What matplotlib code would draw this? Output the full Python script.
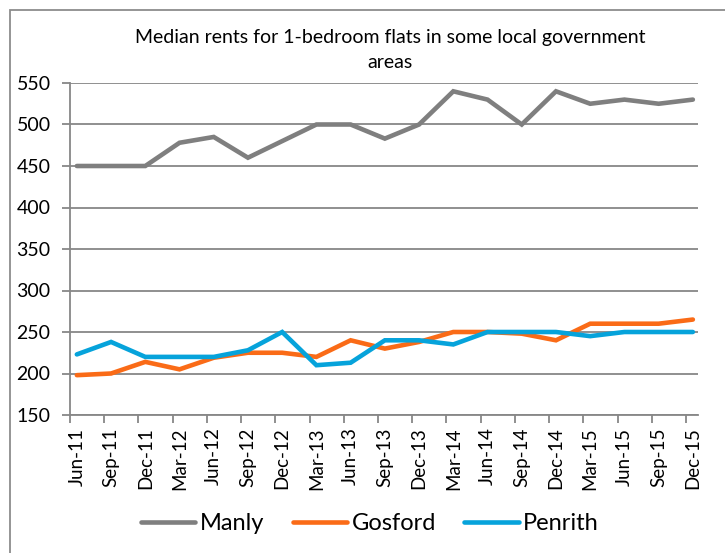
import matplotlib.pyplot as plt
import numpy as np
from matplotlib.patches import Rectangle

plt.rcParams['font.family'] = ['Lato', 'DejaVu Sans']

# quarters
quarters = ["Jun-11", "Sep-11", "Dec-11", "Mar-12", "Jun-12", "Sep-12", "Dec-12",
            "Mar-13", "Jun-13", "Sep-13", "Dec-13", "Mar-14", "Jun-14", "Sep-14",
            "Dec-14", "Mar-15", "Jun-15", "Sep-15", "Dec-15"]

# median rents ($/week)
manly = [450, 450, 450, 478, 485, 460, 480, 500, 500, 483, 500, 540, 530, 500,
         540, 525, 530, 525, 530]
gosford = [198, 200, 214, 205, 219, 225, 225, 220, 240, 230, 238, 250, 250, 248,
           240, 260, 260, 260, 265]
penrith = [223, 238, 220, 220, 220, 228, 250, 210, 213, 240, 240, 235, 250, 250,
           250, 245, 250, 250, 250]

x = np.arange(len(quarters))
grid_col = "#878787"

fig = plt.figure(figsize=(7.25, 5.53), dpi=100)
ax = fig.add_axes([70/725, 1 - 415/553, 628/725, 332/553])

lw = 3.3
ax.plot(x, manly, color="#7f7f7f", lw=lw, solid_capstyle="round", solid_joinstyle="miter", label="Manly")
ax.plot(x, gosford, color="#fa6b17", lw=lw, solid_capstyle="round", solid_joinstyle="miter", label="Gosford")
ax.plot(x, penrith, color="#06a3db", lw=lw, solid_capstyle="round", solid_joinstyle="miter", label="Penrith")

ax.set_ylim(150, 550)
ax.set_yticks(np.arange(150, 551, 50))
ax.set_xlim(-0.2, 18.15)
ax.yaxis.grid(True, color=grid_col, lw=1.3)
ax.set_axisbelow(True)

# tick marks sit a little left of each point, labels sit under the point
ax.set_xticks(x - 0.2)
ax.set_xticklabels([])
ax.set_xticks(x, minor=True)
ax.set_xticklabels(quarters, minor=True, rotation=90, fontsize=13.5)
ax.tick_params(axis="x", which="major", length=6, color=grid_col, width=1.3, direction="out")
ax.tick_params(axis="x", which="minor", length=0, pad=9)
ax.tick_params(axis="y", length=6, color=grid_col, width=1.3, labelsize=14, pad=8)

for s in ["top", "right"]:
    ax.spines[s].set_visible(False)
for s in ["left", "bottom"]:
    ax.spines[s].set_color(grid_col)
    ax.spines[s].set_linewidth(1.3)

fig.text(390/725, 1 - 37/553, "Median rents for 1-bedroom flats in some local government",
         ha="center", va="center", fontsize=14)
fig.text(390/725, 1 - 62/553, "areas", ha="center", va="center", fontsize=14)

fig.legend(loc="center", bbox_to_anchor=(370/725, 1 - 524/553), ncol=3, frameon=False,
           fontsize=17, handlelength=2.3, handletextpad=0.2, columnspacing=1.2)

fig.patches.append(Rectangle((10/725, -0.5), 2, 0.5 + 1 - 10/553, transform=fig.transFigure,
                             fill=False, edgecolor="#8c8c8c", lw=1.3))

fig.savefig("out.png", dpi=100)
